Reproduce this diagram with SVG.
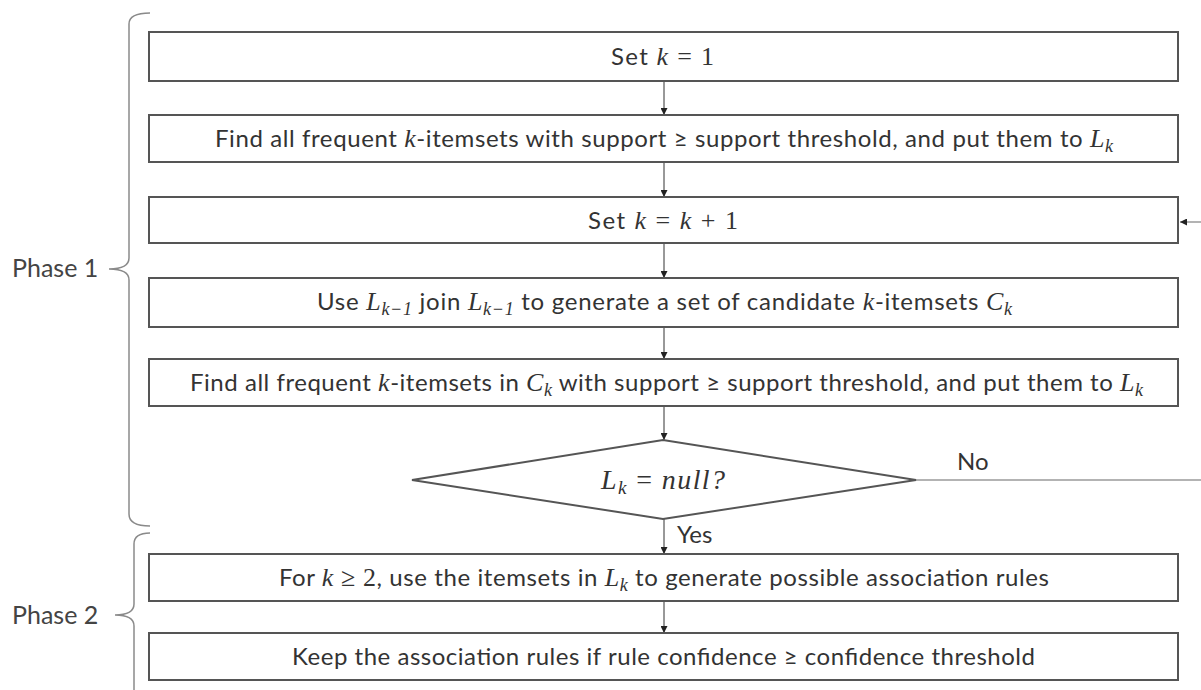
<svg xmlns="http://www.w3.org/2000/svg" width="1201" height="690" viewBox="0 0 1201 690">
<defs>
<style>
.box{fill:#fff;stroke:#555;stroke-width:2}
.t{font-family:Lato,"Liberation Sans",sans-serif;font-size:24px;fill:#333}
.m{font-family:"Liberation Serif",serif;font-style:italic;font-size:26px}
.mu{font-family:"Liberation Serif",serif;font-style:normal;font-size:26px}
.sub{font-size:18px}
.ph{font-family:Lato,"Liberation Sans",sans-serif;font-size:25px;fill:#444}
.brace{fill:none;stroke:#8a8a8a;stroke-width:1.5}
.conn{fill:none;stroke:#333;stroke-width:1}
.lconn{fill:none;stroke:#9a9a9a;stroke-width:1.5}
</style>
<marker id="ah" viewBox="0 0 10 10" refX="10" refY="5" markerWidth="7" markerHeight="7" markerUnits="userSpaceOnUse" orient="auto">
<path d="M0,0 L10,5 L0,10 z" fill="#222"/>
</marker>
</defs>
<rect width="1201" height="690" fill="#fff"/>

<g id="braces">
<path class="brace" d="M150,13 Q129,13 129,24 L129,258 Q129,269 109,269 Q129,269 129,280 L129,514 Q129,526 150,526"/>
<path class="brace" d="M150,533 Q134,533 134,544 L134,604 Q134,615 115,615 Q134,615 134,626 L134,690"/>
<text class="ph" x="12" y="277">Phase 1</text>
<text class="ph" x="12" y="624">Phase 2</text>
</g>

<g id="connectors">
<line class="conn" x1="664" y1="81" x2="664" y2="115" marker-end="url(#ah)"/>
<line class="conn" x1="664" y1="162" x2="664" y2="197" marker-end="url(#ah)"/>
<line class="conn" x1="664" y1="243" x2="664" y2="278" marker-end="url(#ah)"/>
<line class="conn" x1="664" y1="327" x2="664" y2="359" marker-end="url(#ah)"/>
<line class="conn" x1="664" y1="406" x2="664" y2="440" marker-end="url(#ah)"/>
<line class="conn" x1="664" y1="519" x2="664" y2="554" marker-end="url(#ah)"/>
<line class="conn" x1="664" y1="601" x2="664" y2="633" marker-end="url(#ah)"/>
<line class="lconn" x1="916" y1="480" x2="1201" y2="480"/>
<line class="lconn" x1="1201" y1="222" x2="1180" y2="222" marker-end="url(#ah)"/>
<text class="t" x="957" y="470">No</text>
<text class="t" x="677" y="543">Yes</text>
</g>

<g id="n1">
<rect class="box" x="149" y="32" width="1029" height="49"/>
<text class="t" x="611" y="65" textLength="103">Set <tspan class="m">k</tspan><tspan class="mu"> = 1</tspan></text>
</g>

<g id="n2">
<rect class="box" x="149" y="115" width="1029" height="47"/>
<text class="t" x="215" y="147" textLength="898">Find all frequent <tspan class="m">k</tspan>-itemsets with support ≥ support threshold, and put them to <tspan class="m">L</tspan><tspan class="m sub" dy="5">k</tspan></text>
</g>

<g id="n3">
<rect class="box" x="149" y="197" width="1029" height="46"/>
<text class="t" x="588" y="229" textLength="150">Set <tspan class="m">k</tspan><tspan class="mu"> = </tspan><tspan class="m">k</tspan><tspan class="mu"> + 1</tspan></text>
</g>

<g id="n4">
<rect class="box" x="149" y="278" width="1029" height="49"/>
<text class="t" x="317" y="310" textLength="695">Use <tspan class="m">L</tspan><tspan class="m sub" dy="5">k−1</tspan><tspan dy="-5"> join </tspan><tspan class="m">L</tspan><tspan class="m sub" dy="5">k−1</tspan><tspan dy="-5"> to generate a set of candidate </tspan><tspan class="m">k</tspan>-itemsets <tspan class="m">C</tspan><tspan class="m sub" dy="5">k</tspan></text>
</g>

<g id="n5">
<rect class="box" x="149" y="359" width="1029" height="47"/>
<text class="t" x="190" y="391" textLength="953">Find all frequent <tspan class="m">k</tspan>-itemsets in <tspan class="m">C</tspan><tspan class="m sub" dy="5">k</tspan><tspan dy="-5"> with support ≥ support threshold, and put them to </tspan><tspan class="m">L</tspan><tspan class="m sub" dy="5">k</tspan></text>
</g>

<g id="n6">
<polygon class="box" points="412,480 663,440 916,480 663,519"/>
<text class="m" x="601" y="489" textLength="124" fill="#333" style="font-size:28px">L<tspan class="sub" style="font-size:19px" dy="5">k</tspan><tspan dy="-5" class="mu" style="font-size:28px"> = </tspan>null?</text>
</g>

<g id="n7">
<rect class="box" x="149" y="554" width="1029" height="47"/>
<text class="t" x="279" y="586" textLength="770">For <tspan class="m">k</tspan><tspan class="mu"> ≥ 2</tspan>, use the itemsets in <tspan class="m">L</tspan><tspan class="m sub" dy="5">k</tspan><tspan dy="-5"> to generate possible association rules</tspan></text>
</g>

<g id="n8">
<rect class="box" x="149" y="633" width="1029" height="47"/>
<text class="t" x="292" y="665" textLength="743">Keep the association rules if rule confidence ≥ confidence threshold</text>
</g>
</svg>
